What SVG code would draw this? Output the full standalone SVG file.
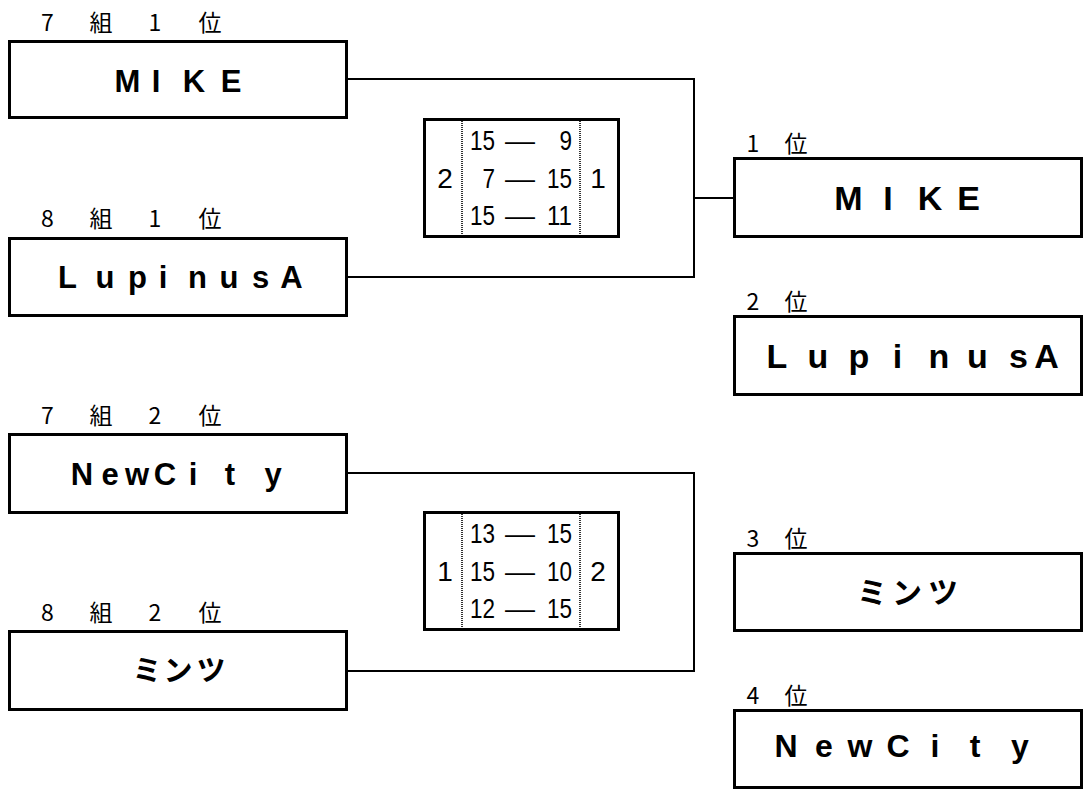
<svg xmlns="http://www.w3.org/2000/svg" width="1088" height="794" viewBox="0 0 1088 794">
<style>
.box{fill:#fff;stroke:#000;stroke-width:3}
.con{fill:none;stroke:#000;stroke-width:2}
.dot{stroke:#333;stroke-width:2;stroke-dasharray:1 1}
.lbl{font-family:"Noto Sans CJK JP","Liberation Sans",sans-serif;font-size:23px;fill:#000;text-anchor:middle}
.nm{font-family:"Liberation Sans","Noto Sans CJK JP",sans-serif;font-weight:bold;fill:#000;text-anchor:middle}
.jp{font-family:"Noto Sans CJK JP",sans-serif;font-weight:bold;fill:#000;text-anchor:middle}
.sc{font-family:"Liberation Sans",sans-serif;font-size:28px;fill:#000}
.scm{font-family:"Liberation Sans",sans-serif;font-size:28px;fill:#000;text-anchor:middle}
</style>
<rect width="1088" height="794" fill="#fff"/>
<g id="connectors">
<polyline class="con" points="348,79 694,79 694,277 348,277"/>
<line class="con" x1="694" y1="198" x2="733" y2="198"/>
<polyline class="con" points="348,473 694,473 694,671 348,671"/>
</g>
<g id="node-7-1">
<text class="lbl" x="47.5 101 155 210" y="31">7組1位</text>
<rect class="box" x="9.5" y="41.5" width="337" height="76"/>
<text class="nm" font-size="31" x="127.5 156 194 231" y="92">MIKE</text>
</g>
<g id="node-8-1">
<text class="lbl" x="47.5 101 155 210" y="227">8組1位</text>
<rect class="box" x="9.5" y="238.5" width="337" height="77"/>
<text class="nm" font-size="31" x="67.5 105 137.5 163 197.5 229 260.5 291.5" y="288">LupinusA</text>
</g>
<g id="node-7-2">
<text class="lbl" x="47.5 101 155 210" y="424">7組2位</text>
<rect class="box" x="9.5" y="434.5" width="337" height="78"/>
<text class="nm" font-size="31" x="82 110 137 165 193 230 273" y="485">NewCity</text>
</g>
<g id="node-8-2">
<text class="lbl" x="47.5 101 155 210" y="621">8組2位</text>
<rect class="box" x="9.5" y="631.5" width="337" height="78"/>
<text class="jp" font-size="29" x="147 178 211" y="681">ミンツ</text>
</g>
<g id="score-1">
<rect class="box" x="424.5" y="119.5" width="194" height="117"/>
<line class="dot" x1="462" y1="121" x2="462" y2="235"/>
<line class="dot" x1="580" y1="121" x2="580" y2="235"/>
<text class="scm" x="445" y="188">2</text>
<text class="scm" x="598" y="188">1</text>
<text class="sc" x="470" y="150" textLength="25" lengthAdjust="spacingAndGlyphs">15</text>
<text class="sc" x="505" y="150" textLength="30" lengthAdjust="spacingAndGlyphs">—</text>
<text class="sc" x="559.5" y="150" textLength="12.5" lengthAdjust="spacingAndGlyphs">9</text>
<text class="sc" x="482.5" y="188" textLength="12.5" lengthAdjust="spacingAndGlyphs">7</text>
<text class="sc" x="505" y="188" textLength="30" lengthAdjust="spacingAndGlyphs">—</text>
<text class="sc" x="547" y="188" textLength="25" lengthAdjust="spacingAndGlyphs">15</text>
<text class="sc" x="470" y="225" textLength="25" lengthAdjust="spacingAndGlyphs">15</text>
<text class="sc" x="505" y="225" textLength="30" lengthAdjust="spacingAndGlyphs">—</text>
<text class="sc" x="547" y="225" textLength="25" lengthAdjust="spacingAndGlyphs">11</text>
</g>
<g id="score-2">
<rect class="box" x="424.5" y="512.5" width="194" height="117"/>
<line class="dot" x1="462" y1="514" x2="462" y2="628"/>
<line class="dot" x1="580" y1="514" x2="580" y2="628"/>
<text class="scm" x="445" y="581">1</text>
<text class="scm" x="598" y="581">2</text>
<text class="sc" x="470" y="543" textLength="25" lengthAdjust="spacingAndGlyphs">13</text>
<text class="sc" x="505" y="543" textLength="30" lengthAdjust="spacingAndGlyphs">—</text>
<text class="sc" x="547" y="543" textLength="25" lengthAdjust="spacingAndGlyphs">15</text>
<text class="sc" x="470" y="581" textLength="25" lengthAdjust="spacingAndGlyphs">15</text>
<text class="sc" x="505" y="581" textLength="30" lengthAdjust="spacingAndGlyphs">—</text>
<text class="sc" x="547" y="581" textLength="25" lengthAdjust="spacingAndGlyphs">10</text>
<text class="sc" x="470" y="618" textLength="25" lengthAdjust="spacingAndGlyphs">12</text>
<text class="sc" x="505" y="618" textLength="30" lengthAdjust="spacingAndGlyphs">—</text>
<text class="sc" x="547" y="618" textLength="25" lengthAdjust="spacingAndGlyphs">15</text>
</g>
<g id="rank-1">
<text class="lbl" x="753 796" y="152">1位</text>
<rect class="box" x="734.5" y="158.5" width="347" height="78"/>
<text class="nm" font-size="34" x="848.5 888 930 968.5" y="210">MIKE</text>
</g>
<g id="rank-2">
<text class="lbl" x="753 796" y="310">2位</text>
<rect class="box" x="734.5" y="316.5" width="347" height="78"/>
<text class="nm" font-size="34" x="777 818 859 897.5 939 977.5 1018.5 1046.5" y="368">LupinusA</text>
</g>
<g id="rank-3">
<text class="lbl" x="753 796" y="547">3位</text>
<rect class="box" x="734.5" y="553.5" width="347" height="77"/>
<text class="jp" font-size="30" x="872 907 943" y="603">ミンツ</text>
</g>
<g id="rank-4">
<text class="lbl" x="753 796" y="704">4位</text>
<rect class="box" x="734.5" y="710.5" width="347" height="77"/>
<text class="nm" font-size="32" x="786 824 860 898 935 975 1020" y="757">NewCity</text>
</g>
</svg>
